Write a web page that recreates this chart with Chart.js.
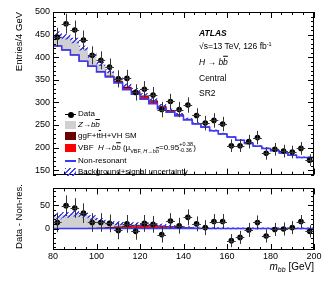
<html>
<head>
<meta charset="utf-8" />
<script src="https://cdn.jsdelivr.net/npm/chart.js"></script>
<style>
  body { margin: 0; width: 332px; height: 281px; background: white; position: relative; overflow: hidden;
         font-family: "Liberation Sans", Arial, sans-serif; color: black; }
  canvas { position: absolute; left: 0; }
  .t { position: absolute; white-space: nowrap; line-height: 1; transform: translateY(-50%); }
  .lab { font-size: 8.5px; left: 199px; }
  .leg { font-size: 8px; left: 78px; }
  .ob { text-decoration: overline; }
  .vt { position: absolute; white-space: nowrap; line-height: 1; font-size: 9.5px; width: 80px;
        transform-origin: 0 0; transform: rotate(-90deg); }
  .sw { position: absolute; left: 65px; width: 11px; height: 8px; }
  .ss { display: inline-block; vertical-align: middle; font-size: 5.5px; line-height: 1.05; text-align: left; }
</style>
</head>
<body>
<canvas id="top" width="332" height="183" style="top:0px"></canvas>
<canvas id="bot" width="332" height="101" style="top:180px"></canvas>
<canvas id="legBand" width="11" height="8" style="left:65px; top:167.5px"></canvas>

<!-- axis titles -->
<div class="vt" style="left:14px; top:92px; text-align:right;">Entries/4 GeV</div>
<div class="vt" style="left:14px; top:264px; text-align:right;">Data - Non-res.</div>
<div class="t" style="right:18px; top:267px; font-size:10px;"><i>m</i><span style="font-size:7px; position:relative; top:2px;"><i>bb</i></span> [GeV]</div>

<!-- ATLAS label -->
<div class="t lab" style="top:33px;"><b><i>ATLAS</i></b></div>
<div class="t lab" style="top:46px;">√s=13 TeV, 126 fb<span style="font-size:5.5px; position:relative; top:-3px;">-1</span></div>
<div class="t lab" style="top:62px;"><i>H</i> → <i>b</i><span class="ob"><i>b</i></span></div>
<div class="t lab" style="top:78px;">Central</div>
<div class="t lab" style="top:93px;">SR2</div>

<!-- legend -->
<div style="position:absolute; left:65px; top:114px; width:11px; height:1px; background:#000;"></div>
<div style="position:absolute; left:68px; top:111.5px; width:6px; height:6px; border-radius:50%; background:#000;"></div>
<div class="t leg" style="top:114px;">Data</div>
<div class="sw" style="top:120.5px; background:#d0d0d0;"></div>
<div class="t leg" style="top:124.5px;"><i>Z</i>→<i>b</i><span class="ob"><i>b</i></span></div>
<div class="sw" style="top:131.5px; background:#6b0000;"></div>
<div class="t leg" style="top:135.5px;">ggF+t<span class="ob">t</span>H+VH SM</div>
<div class="sw" style="top:144px; background:#ff0000;"></div>
<div class="t leg" style="top:148px;">VBF&nbsp;&nbsp;<i>H</i>→<i>b</i><span class="ob"><i>b</i></span> (μ<span style="font-size:5.5px; position:relative; top:3px;">VBF, <i>H</i>→<i>b</i><span class="ob"><i>b</i></span></span>=0.95<span class="ss">+0.38<br>-0.36</span>)</div>
<div style="position:absolute; left:65px; top:160px; width:11px; height:1.5px; background:#3a3aff;"></div>
<div class="t leg" style="top:160.5px;">Non-resonant</div>
<div class="t leg" style="top:171.5px;">Background+signal uncertainty</div>

<script>
// bins of m_bb (lower edges, GeV)
const binLow = [80, 84, 88, 92, 96, 100, 104, 108, 112, 116, 120, 124, 128, 132, 136,
                140, 144, 148, 152, 156, 160, 164, 168, 172, 176, 180, 184, 188, 192, 196];
const binWidth = 4;

const dataCounts = [444, 474, 460, 438, 404, 393, 378, 352, 353, 322, 329, 316, 284, 302, 284,
                    294, 271, 254, 260, 252, 204, 204, 213, 222, 187, 196, 192, 190, 198, 172];
const dataErr = [21, 22, 21, 21, 20, 20, 19, 19, 19, 18, 18, 18, 17, 17, 17,
                 17, 16, 16, 16, 16, 14, 14, 15, 15, 14, 14, 14, 14, 14, 13];
const nonRes = [431, 425, 416, 405, 391, 380, 367, 356, 343, 328, 318, 307, 297, 286, 278,
                270, 261, 252, 245, 237, 230, 223, 216, 209, 203, 198, 193, 188, 183, 178];
const zbb = [18, 26, 29, 32, 29, 23, 17, 11, 7.5, 5, 3.5, 2.5, 2, 1.5, 1.2,
             1, 0.8, 0.6, 0.5, 0.4, 0.4, 0.3, 0.3, 0.3, 0.2, 0.2, 0.2, 0.2, 0.2, 0.2];
const ggfH = [0, 0, 0, 0, 0, 0.1, 0.2, 0.4, 0.7, 1, 1.2, 1.3, 1.2, 1, 0.7,
              0.5, 0.3, 0.2, 0.1, 0.1, 0, 0, 0, 0, 0, 0, 0, 0, 0, 0];
const vbfH = [0, 0, 0, 0, 0, 0.3, 0.8, 1.6, 2.7, 3.9, 4.9, 5.4, 5.1, 4.2, 3,
              2, 1.2, 0.6, 0.3, 0.2, 0.1, 0, 0, 0, 0, 0, 0, 0, 0, 0];
const bandErr = [6, 6, 6, 6, 5.5, 5, 4.5, 4, 4, 4, 4, 4, 3.5, 3.5, 3, 3,
                 2.5, 2.5, 2, 2, 2, 2, 2, 2, 2, 2, 2, 2, 2, 2];

const GREY = '#d0d0d0', DARKRED = '#6b0000', RED = '#ff0000', BLUE = '#3a3aff', HATCH = '#4040ff';

function steps(vals) {
  const pts = binLow.map((x, i) => ({x: x, y: vals[i]}));
  pts.push({x: binLow[binLow.length - 1] + binWidth, y: vals[vals.length - 1]});
  return pts;
}
function centers(vals) {
  return binLow.map((x, i) => ({x: x + binWidth / 2, y: vals[i]}));
}
function add(a, b) { return a.map((v, i) => v + b[i]); }

// "///" hatch tile, two pixels wide per row
function hatch(canvas) {
  const n = 5;
  const c = document.createElement('canvas');
  c.width = n; c.height = n;
  const g = c.getContext('2d');
  g.fillStyle = HATCH;
  for (let i = 0; i < n; i++) {
    g.fillRect((n - 1 - i) % n, i, 1, 1);
    g.fillRect((n - i) % n, i, 1, 1);
  }
  return canvas.getContext('2d').createPattern(c, 'repeat');
}

// legend swatch for the uncertainty band
(function () {
  const c = document.getElementById('legBand');
  const g = c.getContext('2d');
  g.fillStyle = hatch(c);
  g.fillRect(0, 0, c.width, c.height);
})();

// ATLAS style frame with inward ticks on all sides
const frameTicks = {
  id: 'frameTicks',
  afterDraw(chart, args, o) {
    const {ctx, chartArea: a} = chart;
    const x = chart.scales.x, y = chart.scales.y;
    ctx.save();
    ctx.strokeStyle = '#000';
    ctx.lineWidth = 1;
    ctx.beginPath();
    for (let v = x.min; v <= x.max + 1e-6; v += o.xMinor) {
      const len = Math.abs(v % o.xMajor) < 1e-6 ? o.majorLen : o.minorLen;
      const px = Math.round(x.getPixelForValue(v)) + 0.5;
      ctx.moveTo(px, a.bottom); ctx.lineTo(px, a.bottom - len);
      ctx.moveTo(px, a.top); ctx.lineTo(px, a.top + len);
    }
    for (let v = Math.ceil(y.min / o.yMinor) * o.yMinor; v <= y.max + 1e-6; v += o.yMinor) {
      const len = Math.abs(v % o.yMajor) < 1e-6 ? o.majorLen : o.minorLen;
      const py = Math.round(y.getPixelForValue(v)) + 0.5;
      ctx.moveTo(a.left, py); ctx.lineTo(a.left + len, py);
      ctx.moveTo(a.right, py); ctx.lineTo(a.right - len, py);
    }
    ctx.stroke();
    ctx.strokeRect(Math.round(a.left) + 0.5, Math.round(a.top) + 0.5,
                   Math.round(a.right - a.left) - 1, Math.round(a.bottom - a.top) - 1);
    ctx.restore();
  }
};

const errorBars = {
  id: 'errorBars',
  afterDatasetsDraw(chart, args, o) {
    const {ctx} = chart;
    const x = chart.scales.x, y = chart.scales.y;
    ctx.save();
    ctx.strokeStyle = '#333';
    ctx.lineWidth = 1;
    ctx.beginPath();
    chart.data.datasets[0].data.forEach((p, i) => {
      const px = Math.round(x.getPixelForValue(p.x)) + 0.5;
      const py = Math.round(y.getPixelForValue(p.y)) + 0.5;
      ctx.moveTo(px, y.getPixelForValue(p.y + o.err[i]));
      ctx.lineTo(px, y.getPixelForValue(p.y - o.err[i]));
      ctx.moveTo(x.getPixelForValue(p.x - binWidth / 2), py);
      ctx.lineTo(x.getPixelForValue(p.x + binWidth / 2), py);
    });
    ctx.stroke();
    ctx.restore();
  }
};

function makeChart(id, pts, base, sig1, sig2, sig3, yMin, yMax, showX, pad, xHeight) {
  const canvas = document.getElementById(id);
  const vbfTop = add(base, sig1);
  const ggfTop = add(vbfTop, sig2);
  const total = add(ggfTop, sig3);
  const hi = add(total, bandErr);
  const lo = total.map((v, i) => v - bandErr[i]);
  const line = {type: 'line', stepped: 'after', pointRadius: 0, borderWidth: 0, borderColor: 'transparent'};
  return new Chart(canvas.getContext('2d'), {
    type: 'line',
    data: {
      datasets: [
        {type: 'line', data: centers(pts), showLine: false, pointRadius: 2.8,
         pointBackgroundColor: '#000', pointBorderWidth: 0, order: 0},
        Object.assign({}, line, {data: steps(hi), fill: 2, backgroundColor: hatch(canvas), order: 1}),
        Object.assign({}, line, {data: steps(lo), fill: false, order: 2}),
        Object.assign({}, line, {data: steps(base), fill: false, borderColor: BLUE, borderWidth: 1.5, order: 3}),
        Object.assign({}, line, {data: steps(ggfTop), fill: 5, backgroundColor: DARKRED,
                                 borderColor: DARKRED, borderWidth: 1, order: 4}),
        Object.assign({}, line, {data: steps(vbfTop), fill: 3, backgroundColor: RED, order: 5}),
        Object.assign({}, line, {data: steps(total), fill: 4, backgroundColor: GREY, order: 6})
      ]
    },
    options: {
      responsive: false,
      animation: false,
      layout: {padding: pad},
      scales: {
        x: {type: 'linear', min: 80, max: 200, display: showX,
            grid: {display: false, drawTicks: false}, border: {display: false},
            ticks: {stepSize: 20, padding: 1, color: '#000', font: {size: 9}},
            afterFit: s => { s.height = xHeight; }},
        y: {min: yMin, max: yMax,
            grid: {display: false, drawTicks: false}, border: {display: false},
            ticks: {stepSize: 50, padding: 3, includeBounds: false, color: '#000', font: {size: 9}},
            afterFit: s => { s.width = 53; }}
      },
      plugins: {
        legend: {display: false},
        tooltip: {enabled: false},
        frameTicks: {xMinor: 5, xMajor: 20, yMinor: 10, yMajor: 50, majorLen: 6, minorLen: 3},
        errorBars: {err: dataErr}
      }
    },
    plugins: [frameTicks, errorBars]
  });
}

Chart.defaults.font.family = '"Liberation Sans", Arial, sans-serif';

// upper panel: full stack on top of the non-resonant background
makeChart('top', dataCounts, nonRes, vbfH, ggfH, zbb, 140, 500, false,
          {top: 12, right: 18, bottom: 3, left: 0}, 0);

// lower panel: data minus non-resonant background
const resid = dataCounts.map((v, i) => v - nonRes[i]);
const zero = nonRes.map(v => v - v);
makeChart('bot', resid, zero, vbfH, ggfH, zbb, -46, 86, true,
          {top: 4, right: 18, bottom: 0, left: 0}, 31);
</script>
</body>
</html>
